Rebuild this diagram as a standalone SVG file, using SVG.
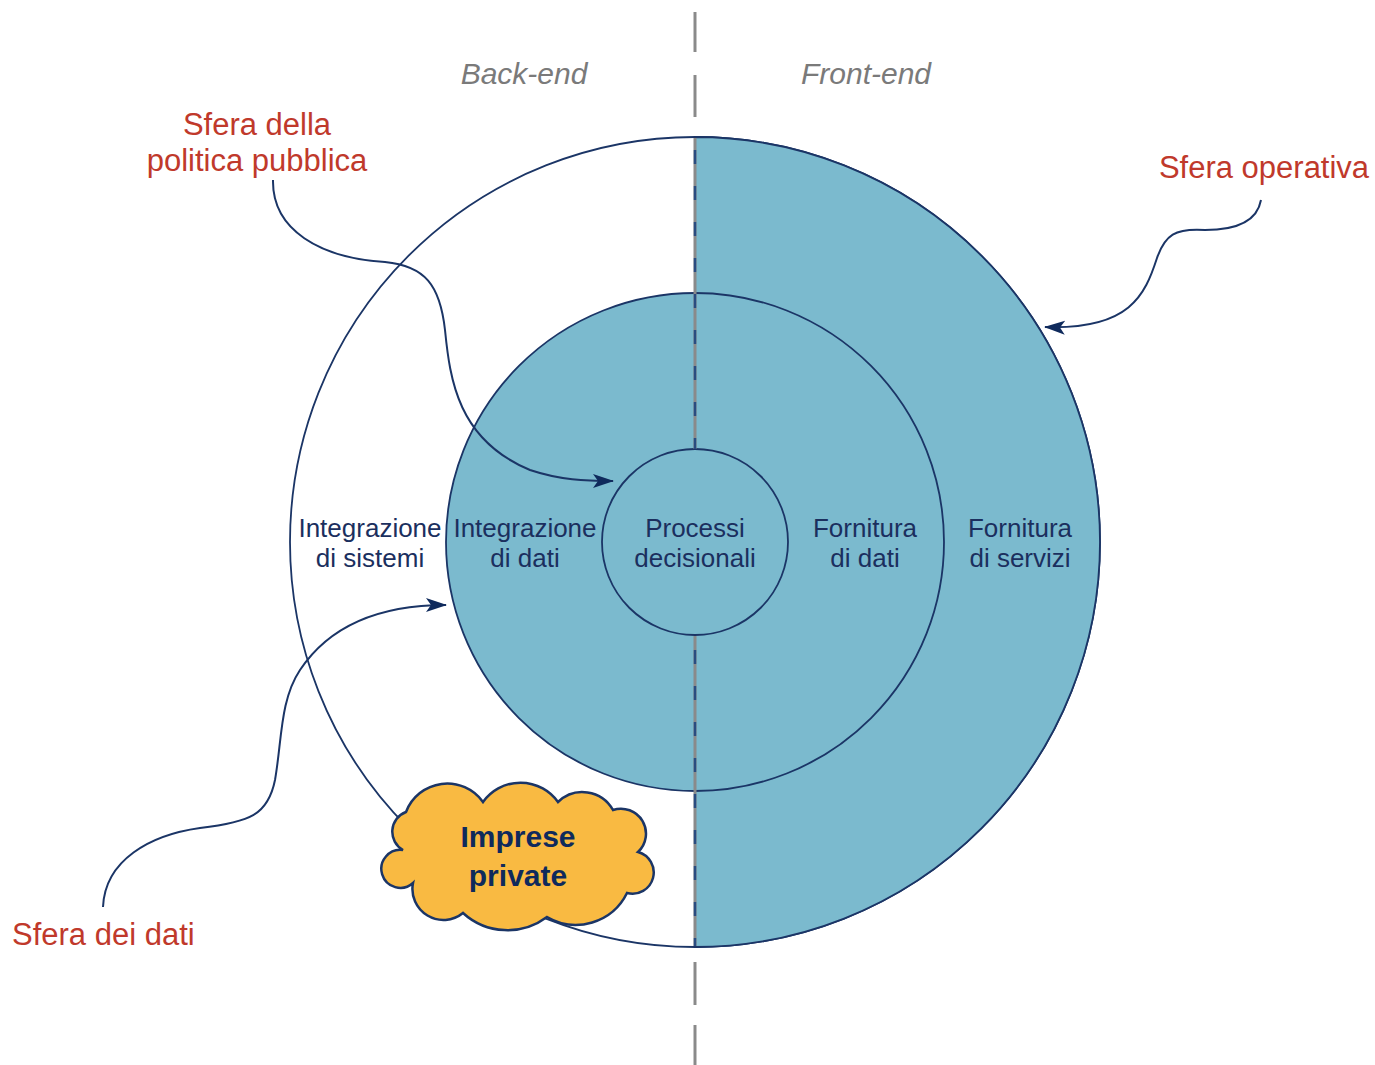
<svg xmlns="http://www.w3.org/2000/svg" width="1375" height="1065" viewBox="0 0 1375 1065">
<style>
.ring{stroke:#1B3566;stroke-width:1.8}
.blue{fill:#7BBACE}
.lbl{font-family:"Liberation Sans",Arial,sans-serif;font-size:26px;fill:#1B2F5E;text-anchor:middle}
.red{font-family:"Liberation Sans",Arial,sans-serif;font-size:31px;fill:#C0392B}
.side{font-family:"Liberation Sans",Arial,sans-serif;font-size:30px;font-style:italic;fill:#7A7A7A;text-anchor:middle}
.conn{fill:none;stroke:#1B3566;stroke-width:2}
.axis{stroke:#8A8A8A;stroke-width:3}
.axdash{stroke:#2A4C80;stroke-width:2.5;stroke-dasharray:14 22}
</style>
<defs>
<marker id="ah" markerUnits="userSpaceOnUse" markerWidth="22" markerHeight="16" refX="20" refY="8" orient="auto">
<path d="M0,1 L21,8 L0,15 L5,8 Z" fill="#0F2A5C"/>
</marker>
</defs>
<rect width="1375" height="1065" fill="#fff"/>

<g id="sfera-operativa-ring">
<circle cx="695" cy="542" r="405" fill="#fff" class="ring"/>
<path d="M695,137 A405,405 0 0 1 695,947 Z" class="blue ring"/>
</g>
<g id="sfera-dati-ring">
<circle cx="695" cy="542" r="249" class="blue ring"/>
</g>
<g id="sfera-politica-core">
<circle cx="695" cy="542" r="93" class="blue ring"/>
</g>

<g id="axis">
<line x1="695" y1="12" x2="695" y2="52" class="axis"/>
<line x1="695" y1="75" x2="695" y2="117" class="axis"/>
<line x1="695" y1="138" x2="695" y2="449" class="axis"/>
<line x1="695" y1="150" x2="695" y2="449" class="axdash"/>
<line x1="695" y1="636" x2="695" y2="946" class="axis"/>
<line x1="695" y1="650" x2="695" y2="946" class="axdash"/>
<line x1="695" y1="962" x2="695" y2="1005" class="axis"/>
<line x1="695" y1="1025" x2="695" y2="1065" class="axis"/>
</g>

<g id="connectors">
<path d="M273,180 C272,230 320,258 385,262 C425,266 440,285 445,330 C450,380 458,440 530,470 C560,480 585,481 613,481" class="conn" marker-end="url(#ah)"/>
<path d="M1261,200 C1257,222 1235,230 1205,230 C1175,228 1165,235 1157,258 C1145,295 1130,330 1045,327" class="conn" marker-end="url(#ah)"/>
<path d="M103,907 C105,860 150,835 200,828 C250,822 268,815 275,780 C282,740 280,700 300,670 C330,625 380,605 446,605" class="conn" marker-end="url(#ah)"/>
</g>

<g id="imprese-private">
<path d="M406,812 A44,44 0 0 1 483,802 A46,46 0 0 1 558,802 A35,35 0 0 1 613,810 A25,25 0 0 1 638,852 A21,21 0 0 1 627,893 A57,57 0 0 1 547,917 A66,66 0 0 1 463,913 A31,31 0 0 1 413,883 A19,19 0 1 1 403,850 A21,21 0 0 1 406,812 Z" fill="#F9BA42" stroke="#1B3566" stroke-width="2.5"/>
<text x="518" y="847" text-anchor="middle" font-family="Liberation Sans,Arial,sans-serif" font-size="30" font-weight="bold" fill="#0F2A5C">Imprese</text>
<text x="518" y="886" text-anchor="middle" font-family="Liberation Sans,Arial,sans-serif" font-size="30" font-weight="bold" fill="#0F2A5C">private</text>
</g>

<g id="labels">
<text x="524" y="84" class="side">Back-end</text>
<text x="866" y="84" class="side">Front-end</text>
<text x="257" y="135" class="red" text-anchor="middle">Sfera della</text>
<text x="257" y="171" class="red" text-anchor="middle">politica pubblica</text>
<text x="1264" y="178" class="red" text-anchor="middle">Sfera operativa</text>
<text x="12" y="945" class="red">Sfera dei dati</text>
</g>

<g id="integrazione-sistemi">
<text x="370" y="537" class="lbl">Integrazione</text>
<text x="370" y="567" class="lbl">di sistemi</text>
</g>
<g id="integrazione-dati">
<text x="525" y="537" class="lbl">Integrazione</text>
<text x="525" y="567" class="lbl">di dati</text>
</g>
<g id="processi-decisionali">
<text x="695" y="537" class="lbl">Processi</text>
<text x="695" y="567" class="lbl">decisionali</text>
</g>
<g id="fornitura-dati">
<text x="865" y="537" class="lbl">Fornitura</text>
<text x="865" y="567" class="lbl">di dati</text>
</g>
<g id="fornitura-servizi">
<text x="1020" y="537" class="lbl">Fornitura</text>
<text x="1020" y="567" class="lbl">di servizi</text>
</g>
</svg>
